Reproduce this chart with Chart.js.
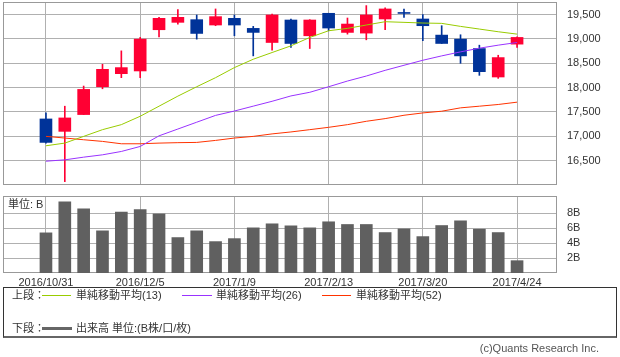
<!DOCTYPE html>
<html>
<head>
<meta charset="utf-8">
<script src="https://cdn.jsdelivr.net/npm/chart.js@4.4.1/dist/chart.umd.min.js"></script>
<style>
  body { margin: 0; width: 620px; height: 357px; background: #fff; position: relative; overflow: hidden;
         font-family: "Liberation Sans", "Noto Sans CJK JP", sans-serif; font-size: 11px; color: #333; }
  .abs { position: absolute; white-space: nowrap; line-height: 14px; }
  #priceBox { position: absolute; left: 0; top: 0; }
  #volBox { position: absolute; left: 0; top: 190px; }
  #legend { position: absolute; left: 3px; top: 287px; width: 612px; height: 48px;
            border: 1px solid #333; border-bottom: 2px solid #666; }
  .ln { position: absolute; height: 1px; }
</style>
</head>
<body>
<div id="priceBox"><canvas id="priceChart" width="620" height="190"></canvas></div>
<div id="volBox"><canvas id="volChart" width="620" height="100"></canvas></div>
<div class="abs" style="left:8px;top:197px;">単位: B</div>

<div id="legend"></div>
<div class="abs" style="left:12px;top:288px;">上段：</div>
<div class="ln" style="left:42px;top:295px;width:29px;background:#99cc00;"></div>
<div class="abs" style="left:76px;top:288px;">単純移動平均(13)</div>
<div class="ln" style="left:182px;top:295px;width:30px;background:#9933ff;"></div>
<div class="abs" style="left:216px;top:288px;">単純移動平均(26)</div>
<div class="ln" style="left:322px;top:295px;width:29px;background:#ff3300;"></div>
<div class="abs" style="left:356px;top:288px;">単純移動平均(52)</div>
<div class="abs" style="left:12px;top:321px;">下段：</div>
<div class="ln" style="left:42px;top:327px;width:30px;height:3px;background:#666;"></div>
<div class="abs" style="left:76px;top:321px;">出来高 単位:(B株/口/枚)</div>
<div class="abs" style="right:21px;top:341px;color:#555;">(c)Quants Research Inc.</div>

<script>
// weekly candles, 2016/10/31 - 2017/4/24
const weeks = ['2016/10/31', '2016/11/7', '2016/11/14', '2016/11/21', '2016/11/28', '2016/12/5',
  '2016/12/12', '2016/12/19', '2016/12/26', '2017/1/2', '2017/1/9', '2017/1/16', '2017/1/23',
  '2017/1/30', '2017/2/6', '2017/2/13', '2017/2/20', '2017/2/27', '2017/3/6', '2017/3/13',
  '2017/3/20', '2017/3/27', '2017/4/3', '2017/4/10', '2017/4/17', '2017/4/24'];

const open  = [17357, 17102, 17447, 18019, 18287, 18343, 19190, 19342, 19397, 19287, 19424, 19218, 18928,
               19390, 19066, 19528, 19135, 19121, 19411, 19545, 19411, 19080, 18997, 18804, 18219, 18894];
const close = [16875, 17378, 17964, 18377, 18412, 18997, 19424, 19445, 19114, 19459, 19287, 19135, 19493,
               18908, 19390, 19225, 19307, 19493, 19617, 19525, 19273, 18908, 18653, 18329, 18618, 19032];
const high  = [17481, 17619, 18033, 18480, 18756, 19032, 19445, 19603, 19493, 19617, 19493, 19259, 19514,
               19410, 19397, 19528, 19431, 19686, 19638, 19617, 19500, 19273, 19087, 18873, 18666, 19045];
const low   = [16860, 16069, 17447, 17977, 18205, 18205, 19045, 19307, 18997, 19273, 19066, 18653, 18770,
               18825, 18804, 19169, 19100, 18983, 19190, 19445, 18963, 18908, 18501, 18253, 18191, 18825];

const ma13 = [16806, 16861, 16999, 17137, 17240, 17412, 17619, 17826, 18019, 18205, 18412, 18584, 18722,
              18859, 19032, 19169, 19218, 19287, 19355, 19342, 19328, 19321, 19259, 19204, 19149, 19100];
const ma26 = [16489, 16517, 16572, 16620, 16689, 16792, 17010, 17150, 17290, 17430, 17520, 17620, 17720,
              17830, 17905, 18019, 18136, 18239, 18356, 18460, 18563, 18653, 18735, 18811, 18873, 18928];
const ma52 = [16999, 16965, 16930, 16896, 16847, 16847, 16861, 16870, 16875, 16916, 16965, 16999, 17050,
              17090, 17137, 17185, 17240, 17309, 17364, 17433, 17481, 17516, 17585, 17619, 17654, 17702];

const volume = [5.37, 9.53, 8.59, 5.64, 8.15, 8.5, 7.9, 4.74, 5.64, 4.2, 4.6, 6.04, 6.58,
                6.31, 6.04, 6.85, 6.49, 6.49, 5.41, 5.9, 4.87, 6.35, 6.98, 5.86, 5.41, 1.65];

const weekTicks = [0, 5, 10, 15, 20, 25];
const priceTicks = [16500, 17000, 17500, 18000, 18500, 19000, 19500];
const volTicks = [2, 4, 6, 8];

const UP = '#ff0033';
const DOWN = '#003399';
const GRID = '#b0b0b0';
const TICK_FONT = { family: 'Liberation Sans', size: 11 };

Chart.defaults.animation = false;
Chart.defaults.devicePixelRatio = 1;

// outline of plot area
const framePlugin = {
  id: 'frame',
  beforeDatasetsDraw(chart) {
    const { ctx, chartArea: a } = chart;
    ctx.save();
    ctx.strokeStyle = '#999';
    ctx.lineWidth = 1;
    ctx.strokeRect(Math.round(a.left) + 0.5, Math.round(a.top) + 0.5,
      Math.round(a.right - a.left) - 1, Math.round(a.bottom - a.top) - 1);
    ctx.restore();
  }
};

const candleColors = open.map((o, i) => close[i] >= o ? UP : DOWN);

function xScale(showLabels) {
  return {
    type: 'linear', min: -2.28, max: 27.12, offset: false,
    afterBuildTicks: s => { s.ticks = weekTicks.map(v => ({ value: v })); },
    afterFit: s => { s.height = showLabels ? 17 : 0; s.paddingLeft = 0; s.paddingRight = 0; },
    border: { display: false },
    grid: { color: GRID, drawTicks: false, offset: false },
    ticks: {
      display: showLabels, padding: 3, font: TICK_FONT, color: '#333',
      maxRotation: 0, autoSkip: false,
      callback: v => weeks[v]
    }
  };
}

function yScale(min, max, ticks, fmt) {
  return {
    position: 'right', min: min, max: max,
    afterBuildTicks: s => { s.ticks = ticks.map(v => ({ value: v })); },
    afterFit: s => { s.width = 63; s.paddingTop = 0; s.paddingBottom = 0; },
    border: { display: false },
    grid: { color: GRID, drawTicks: false },
    ticks: { padding: 10, font: TICK_FONT, color: '#333', callback: fmt }
  };
}

function maLine(values, color) {
  return {
    type: 'line', order: 0,
    data: values.map((v, i) => ({ x: i, y: v })),
    borderColor: color, borderWidth: 1, pointRadius: 0, fill: false, tension: 0
  };
}

new Chart(document.getElementById('priceChart'), {
  type: 'bar',
  data: {
    datasets: [
      maLine(ma13, '#99cc00'),
      maLine(ma26, '#9933ff'),
      maLine(ma52, '#ff3300'),
      {
        order: 2, grouped: false, barThickness: 1,
        data: low.map((l, i) => ({ x: i, y: [l, high[i]] })),
        backgroundColor: candleColors
      },
      {
        order: 1, grouped: false, barThickness: 12,
        data: open.map((o, i) => ({ x: i, y: [o, close[i]] })),
        backgroundColor: candleColors
      }
    ]
  },
  options: {
    responsive: false,
    layout: { padding: { left: 3, top: 2, bottom: 5, right: 0 } },
    plugins: { legend: { display: false }, tooltip: { enabled: false } },
    scales: {
      x: xScale(false),
      y: yScale(16000, 19760, priceTicks, v => v.toLocaleString('en-US'))
    }
  },
  plugins: [framePlugin]
});

new Chart(document.getElementById('volChart'), {
  type: 'bar',
  data: {
    datasets: [{
      barThickness: 12,
      data: volume.map((v, i) => ({ x: i, y: v })),
      backgroundColor: '#606060'
    }]
  },
  options: {
    responsive: false,
    layout: { padding: { left: 3, top: 6, bottom: 0, right: 0 } },
    plugins: { legend: { display: false }, tooltip: { enabled: false } },
    scales: {
      x: xScale(true),
      y: yScale(0, 10.3, volTicks, v => v + 'B')
    }
  },
  plugins: [framePlugin]
});
</script>
</body>
</html>
